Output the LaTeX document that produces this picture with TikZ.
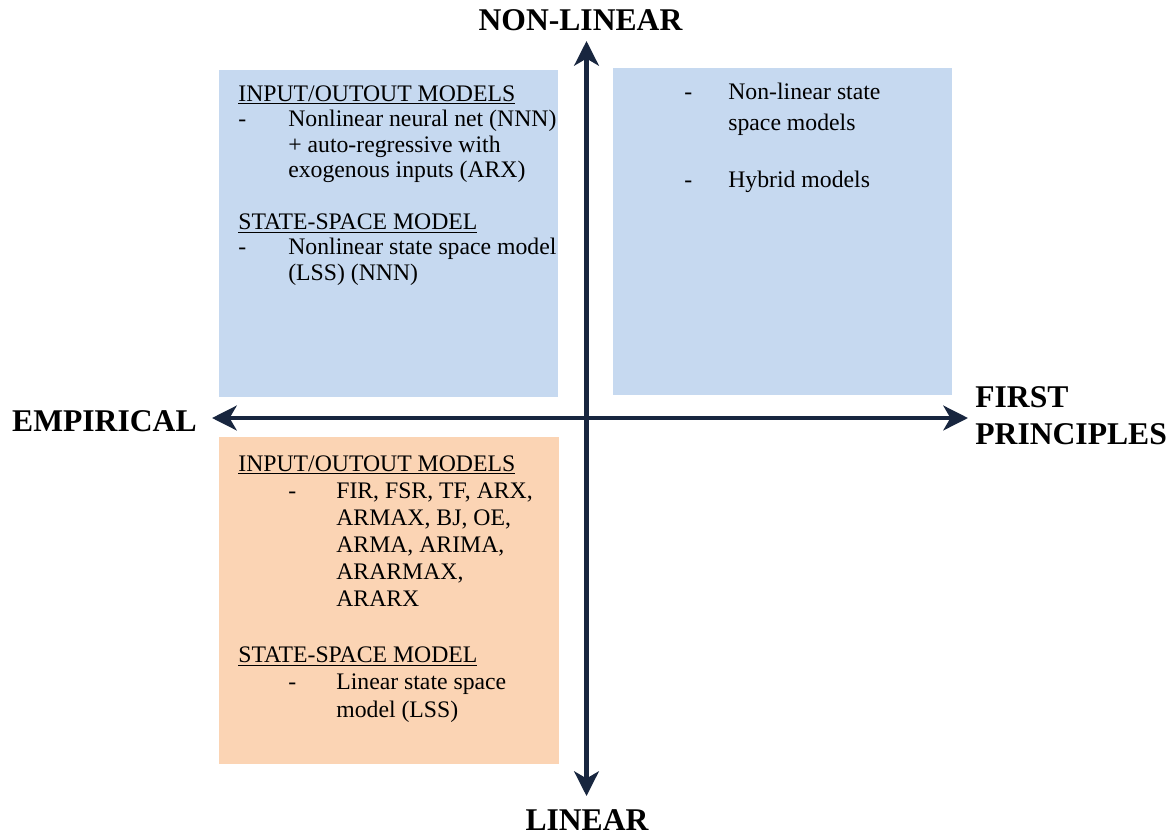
\documentclass[tikz,border=0pt]{standalone}
\usepackage{fontspec}
\IfFontExistsTF{LiberationSerif-Regular.ttf}
  {\setmainfont{LiberationSerif}[Extension=.ttf, UprightFont=*-Regular, BoldFont=*-Bold,
     ItalicFont=*-Italic, BoldItalicFont=*-BoldItalic]}
  {\setmainfont{Liberation Serif}}
\usetikzlibrary{arrows.meta, positioning}
\definecolor{axisNavy}{HTML}{18263F}
\definecolor{nonlinBlue}{HTML}{C6D9F0}
\definecolor{linPeach}{HTML}{FBD4B4}

\begin{document}
\begin{tikzpicture}[
    x=0.02cm, y=-0.02cm,
    quadrant/.style={rectangle, inner sep=0pt, anchor=north west, minimum width=6.78cm, minimum height=6.54cm},
    pole/.style={inner sep=0pt, font=\fontsize{18}{21}\selectfont\bfseries},
    listtext/.style={inner sep=0pt, anchor=base west},
    axis/.style={line width=2.7pt, color=axisNavy, {Stealth[length=14pt, width=14pt, inset=4pt]}-{Stealth[length=14pt, width=14pt, inset=4pt]}}
]
\useasboundingbox (0,0) rectangle (1175,835);

% quadrants
\node[quadrant, fill=nonlinBlue] (empnonlin) at (219,70) {};
\node[quadrant, fill=nonlinBlue] (fpnonlin) at (613,68) {};
\node[quadrant, fill=linPeach, minimum width=6.8cm] (emplin) at (219,437) {};

% axis ends
\coordinate (topend) at (586.5,41);
\coordinate (bottomend) at (586.5,796);
\coordinate (leftend) at (212,418);
\coordinate (rightend) at (968,418);

\draw[axis] (bottomend) -- (topend);
\draw[axis] (leftend) -- (rightend);

\node[pole] (nonlinear) at (580.5,20) {NON-LINEAR};
\node[pole] (linear) at (587,820) {LINEAR};
\node[pole, anchor=east] (empirical) at (197,421) {EMPIRICAL};
\node[pole, anchor=west, align=left] (firstpr) at (975,415.5) {FIRST\\PRINCIPLES};

% quadrant texts
\node[listtext, font=\fontsize{13.5}{14.6}\selectfont] (empnonlintext) at (238,101) {%
\begin{tabular}[t]{@{}p{1cm}@{}l@{}}
\multicolumn{2}{@{}l@{}}{\underline{INPUT/OUTOUT MODELS}}\\
- & Nonlinear neural net (NNN)\\
 & + auto-regressive with\\
 & exogenous inputs (ARX)\\
 & \\
\multicolumn{2}{@{}l@{}}{\underline{STATE-SPACE MODEL}}\\
- & Nonlinear state space model\\
 & (LSS) (NNN)
\end{tabular}};

\node[listtext, font=\fontsize{13.5}{18.1}\selectfont] (fpnonlintext) at (684,99) {%
\begin{tabular}[t]{@{}p{0.88cm}@{}l@{}}
- & Non-linear state\\
 & space models\\[0.5cm]
- & Hybrid models
\end{tabular}};

\node[listtext, font=\fontsize{13.5}{15.4}\selectfont] (emplintext) at (238,471) {%
\begin{tabular}[t]{@{}p{1.96cm}@{}l@{}}
\multicolumn{2}{@{}l@{}}{\underline{INPUT/OUTOUT MODELS}}\\
\hspace{1.0cm}- & FIR, FSR, TF, ARX,\\
 & ARMAX, BJ, OE,\\
 & ARMA, ARIMA,\\
 & ARARMAX,\\
 & ARARX\\[0.05cm]
 & \\
\multicolumn{2}{@{}l@{}}{\underline{STATE-SPACE MODEL}}\\
\hspace{1.0cm}- & Linear state space\\
 & model (LSS)
\end{tabular}};

\end{tikzpicture}
\end{document}
